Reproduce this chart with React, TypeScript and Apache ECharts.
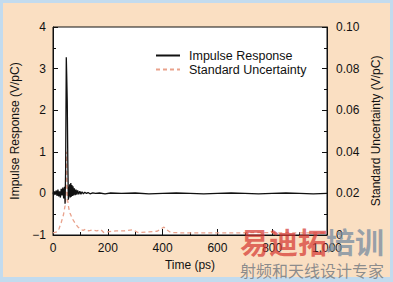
import React, { useEffect, useRef } from "react";
import * as echarts from "echarts";

const impulseTime = [0, 3, 6, 9, 12, 15, 18, 21, 24, 27, 30, 33, 36, 39, 42, 44, 46, 48.5, 50, 52, 54, 56, 58, 61, 63, 65, 67, 69, 71, 73, 75, 78, 81, 84, 87, 90, 94, 98, 102, 106, 111, 116, 122, 128, 135, 145, 155, 170, 190, 210, 250, 300, 350, 400, 450, 500, 550, 600, 650, 700, 750, 800, 850, 900, 950, 1000];
const impulseValue = [0.02, -0.04, 0.05, -0.03, 0.07, -0.06, 0.09, -0.07, 0.05, -0.1, 0.11, -0.05, 0.14, -0.12, 0.16, -0.25, 0.5, 3.27, 2.85, 2.2, 0.8, -0.15, -0.05, 0.22, -0.1, 0.25, -0.08, 0.2, -0.06, 0.17, -0.05, 0.12, -0.04, 0.09, -0.03, 0.07, -0.02, 0.05, -0.02, 0.04, -0.01, 0.03, 0, 0.02, -0.01, 0.015, 0, 0.01, -0.01, 0.01, 0, 0.01, -0.01, 0, 0.01, 0, -0.01, 0, 0.01, 0, -0.01, 0, 0.01, 0, -0.01, 0];

const uncertaintyTime = [0, 15, 22, 30, 38, 44, 46, 48, 49.5, 51, 53, 58, 62, 70, 80, 90, 100, 110, 120, 130, 145, 160, 175, 185, 200, 230, 260, 290, 310, 350, 380, 395, 405, 415, 430, 480, 550, 650, 750, 850, 950, 1000];
const uncertaintyValue = [0.001, 0.0015, 0.003, 0.006, 0.0096, 0.014, 0.016, 0.025, 0.04, 0.025, 0.017, 0.0125, 0.0106, 0.008, 0.0058, 0.004, 0.0028, 0.0022, 0.0028, 0.002, 0.0025, 0.002, 0.0025, 0.0012, 0.0015, 0.002, 0.002, 0.0025, 0.0012, 0.0015, 0.0018, 0.003, 0.0038, 0.0025, 0.0012, 0.001, 0.001, 0.001, 0.0012, 0.001, 0.001, 0.001];

const seriesNames = ["Impulse Response", "Standard Uncertainty"];
const FONT = "'Liberation Sans', Arial, sans-serif";

export default function App() {
  const ref = useRef<HTMLDivElement>(null);
  useEffect(() => {
    if (!ref.current) return;
    const chart = echarts.init(ref.current, null, { renderer: "svg" });
    const txt = { color: "#111", fontSize: 12, fontFamily: FONT };
    chart.setOption({
      animation: false,
      backgroundColor: "#C2DBEE",
      textStyle: { fontFamily: FONT },
      graphic: [
        { type: "rect", z: -10, silent: true, shape: { x: 3, y: 3, width: 387, height: 274 }, style: { fill: "#FADFC2" } },
        {
          type: "text", z: 100, left: 240, top: 226, silent: true,
          style: { text: "易迪拓", fill: "rgba(214,58,52,0.72)", font: "bold 29px 'Noto Sans CJK SC'" },
        },
        {
          type: "text", z: 100, left: 326, top: 226, silent: true,
          style: { text: "培训", fill: "rgba(120,140,160,0.75)", font: "bold 29px 'Noto Sans CJK SC'" },
        },
        {
          type: "text", z: 100, left: 240, top: 262, silent: true,
          style: { text: "射频和天线设计专家", fill: "rgba(120,125,130,0.85)", font: "16px 'Noto Sans CJK SC'" },
        },
      ],
      grid: {
        left: 53, right: 66, top: 27, bottom: 47,
        show: true, backgroundColor: "#ffffff", borderColor: "#111", borderWidth: 1,
      },
      legend: {
        orient: "vertical", left: 150, top: 44, itemGap: 1, itemWidth: 24, itemHeight: 12,
        data: seriesNames,
        itemStyle: { opacity: 0 },
        textStyle: { ...txt, fontSize: 12.5, padding: [0, 0, 0, 4] },
      },
      xAxis: {
        type: "value", min: 0, max: 1000, interval: 200,
        name: "Time (ps)", nameLocation: "middle", nameGap: 19,
        nameTextStyle: txt,
        axisLine: { onZero: false, lineStyle: { color: "#111", width: 1 } },
        axisTick: { inside: true, length: 6, lineStyle: { color: "#111" } },
        minorTick: { show: true, splitNumber: 2, length: 3, lineStyle: { color: "#111" } },
        splitLine: { show: false },
        axisLabel: { ...txt, margin: 7, formatter: (v: number) => v.toLocaleString("en-US") },
      },
      yAxis: [
        {
          type: "value", min: -1, max: 4, interval: 1, position: "left",
          name: "Impulse Response (V/pC)", nameLocation: "middle", nameGap: 30, nameRotate: 90,
          nameTextStyle: txt,
          axisLine: { show: true, onZero: false, lineStyle: { color: "#111", width: 1 } },
          axisTick: { inside: true, length: 5, lineStyle: { color: "#111" } },
          minorTick: { show: true, splitNumber: 2, length: 3, lineStyle: { color: "#111" } },
          splitLine: { show: false },
          axisLabel: { ...txt, margin: 7, formatter: (v: number) => (v < 0 ? "\u2212" + Math.abs(v) : String(v)) },
        },
        {
          type: "value", min: 0, max: 0.1, interval: 0.02, position: "right",
          name: "Standard Uncertainty (V/pC)", nameLocation: "middle", nameGap: 37, nameRotate: 90,
          nameTextStyle: txt,
          axisLine: { show: true, onZero: false, lineStyle: { color: "#111", width: 1 } },
          axisTick: { inside: true, length: 5, lineStyle: { color: "#111" } },
          minorTick: { show: true, splitNumber: 2, length: 3, lineStyle: { color: "#111" } },
          splitLine: { show: false },
          axisLabel: { ...txt, margin: 9, formatter: (v: number) => (v === 0 ? "0" : v.toFixed(2)) },
        },
      ],
      series: [
        {
          name: seriesNames[1], type: "line", yAxisIndex: 1, symbol: "none",
          data: uncertaintyTime.map((t, i) => [t, uncertaintyValue[i]]),
          lineStyle: { color: "#E9A28C", width: 1.3, type: [4, 3] },
          itemStyle: { color: "#E9A28C" },
          z: 2,
        },
        {
          name: seriesNames[0], type: "line", yAxisIndex: 0, symbol: "none",
          data: impulseTime.map((t, i) => [t, impulseValue[i]]),
          lineStyle: { color: "#111", width: 1.3 },
          itemStyle: { color: "#111" },
          z: 3,
        },
      ],
    });
    return () => chart.dispose();
  }, []);
  return <div ref={ref} style={{ position: "absolute", left: 0, top: 0, width: 393, height: 282 }} />;
}
